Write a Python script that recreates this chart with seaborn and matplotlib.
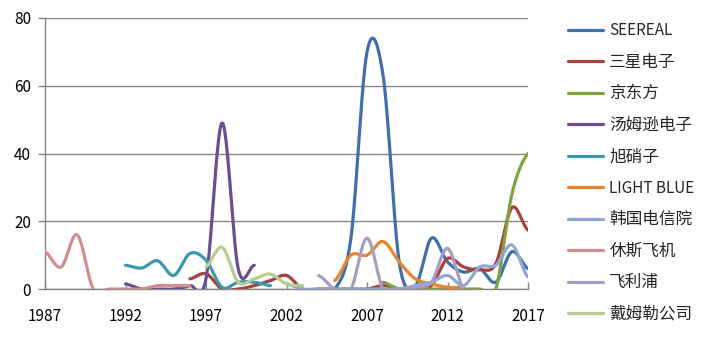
import numpy as np
import pandas as pd
import seaborn as sns
import matplotlib.pyplot as plt

nan = np.nan
years = list(range(1987, 2018))

# values per year, 1987..2017 (nan = no data)
seereal = [nan] * 18 + [0, 15, 70, 63, 8, 1, 15, 8, 5, 6, 2, 11, 6]
samsung = [nan] * 9 + [3, 4.5, 0, 0, 1, 2.5, 4, 0, 0, 0, 0, 0, 1, 0, 0, 1, 9, 6.5, 5.7, 7.5, 24, 17.4]
boe = [nan] * 21 + [2, 0, 0, 0, 0, 0, 0, 0, 28, 40]
thomson = [nan] * 5 + [1.5, 0, 0, 0, 1, 3, 49, 6, 7] + [nan] * 17
asahi = [nan] * 5 + [7, 6.2, 8.3, 4, 10.5, 8.5, 0.5, 2, 2, 1] + [nan] * 16
light_blue = [nan] * 18 + [2.5, 10, 10, 14, 8, 3, 1.5, 0.5, 0.5] + [nan] * 4
etri = [nan] * 15 + [1.5, 0, 0, 0, 0, 0, 0, 0, 1, 2, 4, 1, 6.5, 7, 13, 3.5]
hughes = [11, 6.5, 16, 0, 0, 0, 0, 1, 1, 1] + [nan] * 21
philips = [nan] * 17 + [4, 0, 0, 15, 0, 0, 0.5, 2, 12, 0] + [nan] * 4
daimler = [nan] * 10 + [6.5, 12.3, 2, 3, 4.4, 1.5, 1] + [nan] * 14

names = ['SEEREAL', '三星电子', '京东方', '汤姆逊电子', '旭硝子',
         'LIGHT BLUE', '韩国电信院', '休斯飞机', '飞利浦', '戴姆勒公司']
series = [seereal, samsung, boe, thomson, asahi, light_blue, etri, hughes, philips, daimler]
colors = ['#3F6FAD', '#A8403D', '#7FA33F', '#6A4E91', '#3C98AF',
          '#E8832E', '#8EA8D3', '#D08F8E', '#A99CC1', '#B5CD8F']


def smooth(x, y, n=30):
    # Excel-style smoothed line (cardinal spline through the points)
    x = np.asarray(x, float)
    y = np.asarray(y, float)
    yp = np.r_[y[0], y, y[-1]]
    m = (yp[2:] - yp[:-2]) / 2
    xs, ys = [], []
    for i in range(len(x) - 1):
        t = np.linspace(0, 1, n, endpoint=(i == len(x) - 2))
        h00 = 2 * t**3 - 3 * t**2 + 1
        h10 = t**3 - 2 * t**2 + t
        h01 = -2 * t**3 + 3 * t**2
        h11 = t**3 - t**2
        xs.append(x[i] + t * (x[i + 1] - x[i]))
        ys.append(h00 * y[i] + h10 * m[i] + h01 * y[i + 1] + h11 * m[i + 1])
    return np.concatenate(xs), np.concatenate(ys)


sns.set_theme(style='white')
plt.rcParams['font.family'] = ['Noto Sans CJK SC', 'DejaVu Sans']

fig = plt.figure(figsize=(7.06, 3.52), dpi=100)
ax = fig.add_axes([45 / 706, 1 - 289 / 352, (528 - 45) / 706, (289 - 18) / 352])

for name, vals, c in zip(names, series, colors):
    df = pd.DataFrame({'year': years, 'value': vals}).dropna()
    sx, sy = smooth(df['year'], df['value'])
    sns.lineplot(x=sx, y=sy, color=c, linewidth=2.3, label=name, ax=ax,
                 sort=False, estimator=None, zorder=3)

ax.set_xlim(1987, 2017)
ax.set_ylim(0, 80)
ax.set_xticks(range(1987, 2018, 5))
ax.set_yticks(range(0, 81, 20))
ax.yaxis.grid(True, color='#868686', linewidth=1)
ax.xaxis.grid(False)
ax.set_axisbelow(True)
for s in ['top', 'right']:
    ax.spines[s].set_visible(False)
for s in ['left', 'bottom']:
    ax.spines[s].set_color('#868686')
    ax.spines[s].set_linewidth(1)
ax.tick_params(axis='y', direction='out', length=5, width=1, color='#868686',
               pad=5, labelsize=11, labelcolor='black', left=True)
ax.tick_params(axis='x', direction='in', length=5, width=1, color='#868686',
               pad=14, labelsize=11, labelcolor='black', bottom=True)

handles, labels = ax.get_legend_handles_labels()
ax.get_legend().remove()
leg = fig.legend(handles, labels, loc='upper left', bbox_to_anchor=(568 / 706, 1 - 22 / 352),
                 frameon=False, fontsize=11, handlelength=2.3, handletextpad=0.4,
                 labelspacing=0.95, borderpad=0, borderaxespad=0)
for t in leg.get_texts():
    if not t.get_text().isascii():
        t.set_fontsize(12)

fig.savefig('out.png', dpi=100)
